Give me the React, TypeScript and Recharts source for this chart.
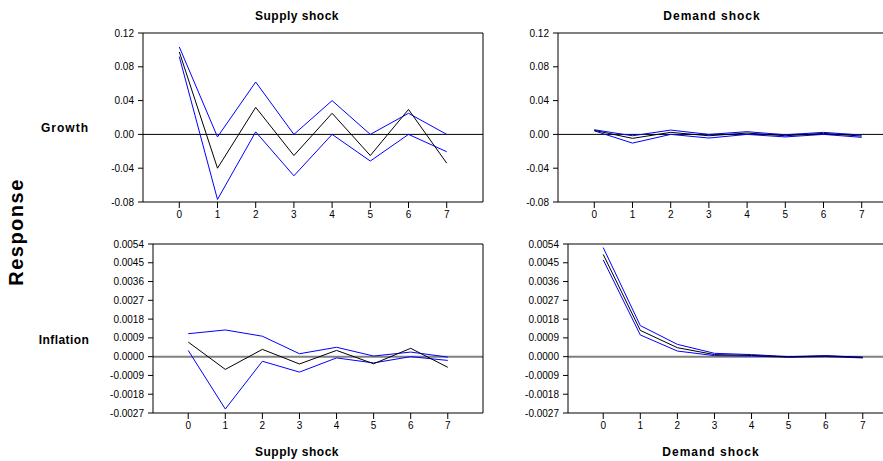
import { Line, LineChart, ReferenceLine, XAxis, YAxis } from "recharts";

const periods = [0, 1, 2, 3, 4, 5, 6, 7];

const growthTicks = [-0.08, -0.04, 0, 0.04, 0.08, 0.12];
const inflationTicks = [-0.0027, -0.0018, -0.0009, 0, 0.0009, 0.0018, 0.0027, 0.0036, 0.0045, 0.0054];

// supply shock -> growth
const supplyGrowthMid = [0.0976, -0.04, 0.032, -0.025, 0.025, -0.025, 0.0295, -0.034];
const supplyGrowthUpper = [0.1035, -0.003, 0.062, 0.0, 0.04, 0.0, 0.025, 0.0];
const supplyGrowthLower = [0.092, -0.077, 0.003, -0.049, 0.0, -0.0315, 0.0, -0.0205];

// demand shock -> growth
const demandGrowthMid = [0.0048, -0.0047, 0.0024, -0.0016, 0.0016, -0.0016, 0.0012, -0.002];
const demandGrowthUpper = [0.0055, -0.0016, 0.0051, 0.0, 0.0032, -0.0004, 0.0024, -0.0008];
const demandGrowthLower = [0.0042, -0.0103, 0.0, -0.0043, 0.0, -0.003, 0.0, -0.0035];

// supply shock -> inflation
const supplyInflMid = [0.0007, -0.00061, 0.00035, -0.00035, 0.0003, -0.00034, 0.0004, -0.00051];
const supplyInflUpper = [0.0011, 0.00128, 0.00098, 0.00014, 0.00045, 0.00003, 0.00022, -0.00002];
const supplyInflLower = [0.0003, -0.00251, -0.00022, -0.00074, -0.00006, -0.0003, 0.0, -0.00018];

// demand shock -> inflation
const demandInflMid = [0.0049, 0.00126, 0.00043, 0.0001, 0.00006, -0.00001, 0.00003, -0.00003];
const demandInflUpper = [0.00523, 0.00149, 0.00059, 0.00016, 0.0001, 0.0, 0.00005, -0.00003];
const demandInflLower = [0.00464, 0.00104, 0.00027, 0.00005, 0.00003, -0.00003, 0.0, -0.00006];

const font = "'Liberation Sans', Arial, sans-serif";
const xDomain: [number, number] = [-0.95, 7.95];

function rows(mid: number[], upper: number[], lower: number[]) {
  return periods.map((p, i) => ({ period: p, mid: mid[i], upper: upper[i], lower: lower[i] }));
}

type PanelProps = {
  data: { period: number; mid: number; upper: number; lower: number }[];
  left: number;
  top: number;
  width: number;
  height: number;
  yWidth: number;
  marginTop: number;
  marginRight: number;
  xHeight: number;
  ticks: number[];
  digits: number;
  zeroStroke: string;
  zeroWidth: number;
};

function Panel(p: PanelProps) {
  const domain: [number, number] = [p.ticks[0], p.ticks[p.ticks.length - 1]];
  const tick = { fontSize: 10, fill: "#000", fontFamily: font };
  return (
    <div style={{ position: "absolute", left: p.left, top: p.top }}>
      <LineChart
        width={p.width}
        height={p.height}
        data={p.data}
        margin={{ top: p.marginTop, right: p.marginRight, left: 0, bottom: 0 }}
      >
        <XAxis
          type="number"
          dataKey="period"
          domain={xDomain}
          ticks={periods}
          allowDataOverflow
          height={p.xHeight}
          tick={tick}
          tickSize={6}
          tickMargin={3}
          stroke="#000"
        />
        <YAxis
          type="number"
          domain={domain}
          ticks={p.ticks}
          interval={0}
          allowDataOverflow
          width={p.yWidth}
          tick={tick}
          tickSize={5}
          tickMargin={4}
          stroke="#000"
          tickFormatter={(v: number) => v.toFixed(p.digits)}
        />
        <ReferenceLine y={0} stroke={p.zeroStroke} strokeWidth={p.zeroWidth} />
        <ReferenceLine y={domain[1]} stroke="#000" />
        <ReferenceLine x={xDomain[1]} stroke="#000" />
        <Line type="linear" dataKey="upper" stroke="#0000ff" strokeWidth={1} dot={false} isAnimationActive={false} />
        <Line type="linear" dataKey="lower" stroke="#0000ff" strokeWidth={1} dot={false} isAnimationActive={false} />
        <Line type="linear" dataKey="mid" stroke="#000" strokeWidth={1} dot={false} isAnimationActive={false} />
      </LineChart>
    </div>
  );
}

function Label(props: { x: number; y: number; text: string; size?: number; spacing?: number; rotate?: boolean }) {
  return (
    <div
      style={{
        position: "absolute",
        left: props.x,
        top: props.y,
        transform: `translate(-50%, -50%)${props.rotate ? " rotate(-90deg)" : ""}`,
        fontFamily: font,
        fontWeight: "bold",
        fontSize: props.size ?? 12,
        letterSpacing: props.spacing ?? 0.5,
        whiteSpace: "nowrap",
        color: "#000",
      }}
    >
      {props.text}
    </div>
  );
}

export default function App() {
  return (
    <div style={{ position: "fixed", left: 0, top: 0, width: 883, height: 461, overflow: "hidden", background: "#fff" }}>
      <Panel
        data={rows(supplyGrowthMid, supplyGrowthUpper, supplyGrowthLower)}
        left={0} top={0} width={490} height={230}
        yWidth={143} marginTop={33} marginRight={7} xHeight={28}
        ticks={growthTicks} digits={2} zeroStroke="#000" zeroWidth={1}
      />
      <Panel
        data={rows(demandGrowthMid, demandGrowthUpper, demandGrowthLower)}
        left={480} top={0} width={425} height={230}
        yWidth={78} marginTop={33} marginRight={7} xHeight={28}
        ticks={growthTicks} digits={2} zeroStroke="#000" zeroWidth={1}
      />
      <Panel
        data={rows(supplyInflMid, supplyInflUpper, supplyInflLower)}
        left={0} top={230} width={490} height={220}
        yWidth={153} marginTop={14} marginRight={7} xHeight={37}
        ticks={inflationTicks} digits={4} zeroStroke="#808080" zeroWidth={2}
      />
      <Panel
        data={rows(demandInflMid, demandInflUpper, demandInflLower)}
        left={490} top={230} width={415} height={220}
        yWidth={78} marginTop={14} marginRight={7} xHeight={37}
        ticks={inflationTicks} digits={4} zeroStroke="#808080" zeroWidth={2}
      />
      <Label x={297} y={16} text="Supply shock" />
      <Label x={712} y={16} text="Demand shock" spacing={1} />
      <Label x={297} y={452} text="Supply shock" />
      <Label x={711} y={452} text="Demand shock" spacing={1} />
      <Label x={65} y={128} text="Growth" spacing={1} />
      <Label x={64} y={340} text="Inflation" spacing={0.4} />
      <Label x={16} y={232} text="Response" size={20} spacing={1.5} rotate />
    </div>
  );
}
